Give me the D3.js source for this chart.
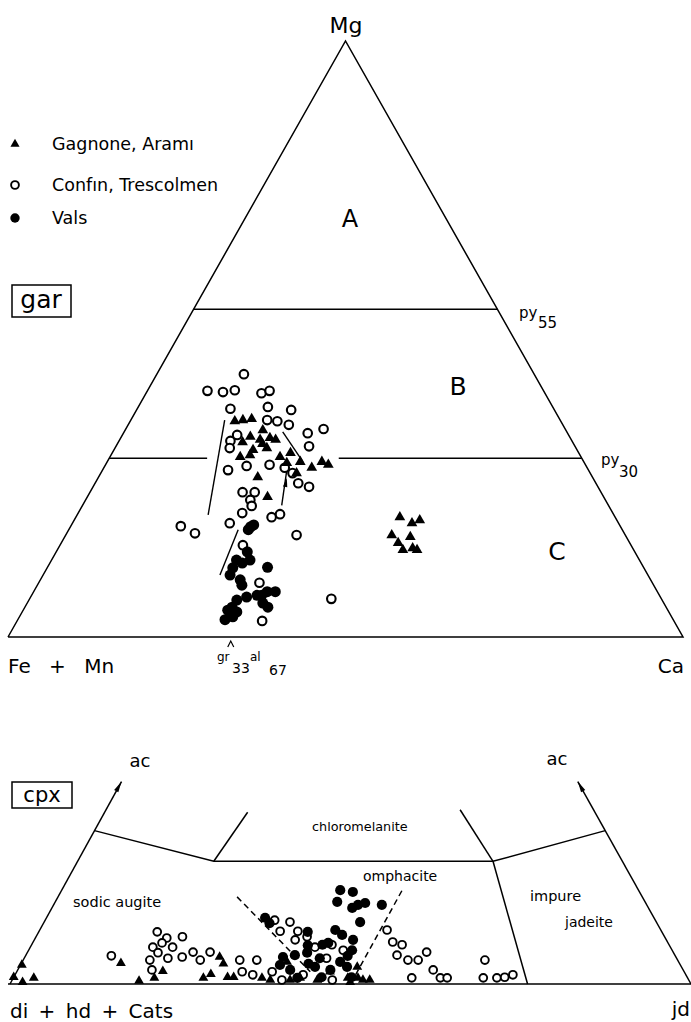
<!DOCTYPE html>
<html>
<head>
<meta charset="utf-8">
<script src="https://cdn.jsdelivr.net/npm/d3@7/dist/d3.min.js"></script>
<style>
    body { margin: 0; background: #fff; }
    svg text { font-family: "DejaVu Sans", sans-serif; fill: #000; }
</style>
</head>
<body>
<div id="chart"></div>
<script>
// ---- garnet: [Ca %, Mg %]  (Fe+Mn = rest) ----
var garGagnone = [
    [15.5, 36.2], [16.6, 36.4], [17.8, 36.6], [19.1, 33.6], [20.8, 33.1], [22.1, 33.4],
    [23.1, 33.1], [22.5, 31.7], [20.6, 31.4], [19.3, 30.2], [20.6, 30.5], [25.2, 30.2],
    [26.4, 30.9], [26.7, 29.2], [29.0, 27.5], [30.8, 28.4], [31.8, 29.4], [33.0, 28.9],
    [23.6, 26.8], [26.7, 23.5], [20.4, 34.7], [18.4, 32.7], [28.6, 29.4], [21.5, 32.4],
    [48.0, 20.1], [50.3, 19.1], [51.2, 19.6], [48.3, 17.1], [51.2, 16.8], [49.9, 15.8],
    [51.2, 14.6], [52.5, 14.9], [53.3, 14.6]
];
var garConfin = [
    [12.9, 44.1], [8.9, 41.3], [11.3, 41.1], [12.9, 41.4], [17.1, 40.9], [18.1, 41.3],
    [13.8, 38.3], [19.2, 38.6], [22.9, 38.1], [20.2, 36.4], [21.8, 36.2], [23.8, 35.6],
    [27.3, 34.2], [29.3, 34.9], [28.6, 32.0], [16.5, 32.9], [17.0, 31.7], [17.0, 33.9],
    [18.6, 28.0], [21.0, 28.7], [24.3, 28.9], [26.8, 28.4], [28.4, 27.5], [30.1, 25.8],
    [32.0, 25.2], [22.6, 24.3], [24.4, 24.3], [24.4, 23.0], [25.1, 22.0], [24.3, 20.8],
    [23.3, 19.1], [29.0, 20.1], [30.0, 20.6], [34.2, 17.1], [27.1, 15.4], [32.7, 9.1],
    [36.3, 2.7], [44.7, 6.4], [16.3, 18.6], [19.0, 17.4]
];
var garVals = [
    [26.7, 18.5], [27.0, 18.8], [26.6, 18.0], [28.3, 14.3], [29.4, 12.9], [27.4, 12.9],
    [27.5, 11.6], [28.5, 12.4], [32.6, 11.7], [27.7, 10.4], [29.6, 9.6], [30.3, 8.7],
    [32.0, 6.7], [30.8, 6.2], [30.7, 5.0], [30.3, 4.5], [31.8, 4.2], [30.7, 2.9],
    [31.6, 3.4], [33.4, 7.0], [34.9, 5.7], [35.8, 7.6], [34.6, 7.6], [36.0, 5.0], [34.1, 7.0]
];
// zoning trends drawn as thin lines
var garTrends = [
    [[19.4, 20.5], [13.9, 36.4]],
    [[26.2, 10.4], [25.1, 18.0]],
    [[23.5, 34.4], [29.0, 29.4]]
];
var garArrow = [[29.5, 22.1], [27.3, 28.0]];
// pyrope boundaries (Mg %) and the stretch of each line left blank
var pyLevels = [55, 30];
var pyGaps = { 55: null, 30: [14.5, 34] };
var grossularMark = 33;

// ---- cpx: [jd %, ac %]  (di+hd+Cats = rest) ----
var cpxGagnone = [
    [0.2, 3.1], [0, 1.1], [1.7, 0.3], [3.0, 1.0], [14.6, 3.4], [18.7, 0.5], [20.7, 1.0],
    [21.4, 2.1], [27.9, 1.0], [28.7, 1.6], [28.6, 4.4], [29.7, 3.3], [31.4, 1.1], [32.3, 1.1],
    [38.9, 3.6], [40.8, 0.65], [44.8, 0.65], [49.1, 1.0], [49.8, 0.3], [49.6, 2.8],
    [50.6, 1.0], [51.5, 0.65], [52.5, 0.65], [42.1, 1.0], [46.0, 2.0], [36.5, 1.0], [37.9, 0.65]
];
var cpxConfin = [
    [12.6, 4.6], [17.4, 8.5], [19.3, 7.5], [21.5, 7.7], [20.9, 6.0], [18.0, 6.0], [18.6, 3.9],
    [19.2, 5.1], [21.1, 4.2], [23.1, 4.4], [24.3, 5.2], [26.0, 3.9], [26.8, 5.2], [19.7, 2.3],
    [31.8, 3.9], [34.3, 3.9], [33.1, 2.0], [34.9, 1.5], [37.5, 2.0], [19.0, 6.7],
    [33.7, 10.4], [36.1, 10.1], [35.4, 8.6], [38.0, 8.6], [39.8, 7.7], [38.3, 7.2], [41.8, 6.0],
    [44.1, 6.4], [44.4, 4.2], [46.2, 5.5], [42.3, 1.5], [47.0, 0.65], [39.6, 0.65],
    [51.0, 8.8], [52.8, 6.85], [54.4, 6.4], [54.5, 4.7], [56.5, 3.9], [58.0, 3.9], [58.6, 5.2],
    [61.0, 2.3], [62.7, 1.0], [58.5, 1.0], [63.7, 1.0], [67.8, 3.9], [69.0, 1.0], [71.0, 1.0],
    [72.1, 1.1], [73.1, 1.5]
];
var cpxVals = [
    [40.9, 15.3], [42.9, 15.0], [41.4, 13.4], [44.1, 12.4], [44.7, 12.9], [45.6, 13.2],
    [48.2, 12.9], [46.4, 10.1], [43.4, 8.8], [32.1, 10.8], [33.2, 9.9], [39.5, 8.5],
    [46.8, 7.2], [47.5, 5.5], [42.7, 6.4], [43.4, 6.7], [37.9, 4.4], [41.1, 5.1], [43.4, 4.2],
    [46.7, 3.6], [48.1, 2.8], [43.4, 2.8], [45.2, 1.1], [40.0, 2.3], [41.7, 1.0], [45.9, 2.3],
    [49.6, 1.1], [39.5, 4.7], [38.1, 3.1], [40.6, 6.3], [44.8, 8.0], [47.3, 4.6], [42.2, 3.3]
];
var cpxBoundary = [[0, 25], [20, 20], [61, 20], [75, 25]];
var cpxStubs = [
    [[20, 20], [21, 28]],
    [[61, 20], [52, 28.4]],
    [[61, 20], [76, 0]]
];
var cpxDashed = [
    [[26.3, 14.2], [43.1, 2.0]],
    [[50, 15.2], [50, 0.8]]
];
var acArrowTop = 33;

var legendNames = ["Gagnone, Aram\u0131", "Conf\u0131n, Trescolmen", "Vals"];

// ---------------------------------------------------------------
var width = 691,
    height = 1022;

var svg = d3.select("#chart").append("svg")
    .attr("width", width)
    .attr("height", height);

// garnet triangle: Fe+Mn lower left, Ca lower right, Mg apex
var gx = d3.scaleLinear().domain([0, 100]).range([8, 683]);
var gy = d3.scaleLinear().domain([0, 100]).range([637, 41]);

function gpx(d) { return gx(d[0] + d[1] / 2); }
function gpy(d) { return gy(d[1]); }

// cpx triangle: di+hd+Cats lower left, jd lower right, ac apex (cut off)
var apexShift = 0.4963;
var cx = d3.scaleLinear().domain([0, 100]).range([10, 691]);
var cy = d3.scaleLinear().domain([0, 100]).range([984, 370.5]);

function cpxX(d) { return cx(d[0] + d[1] * apexShift); }
function cpxY(d) { return cy(d[1]); }

var gLine = d3.line().x(gpx).y(gpy);
var cLine = d3.line().x(cpxX).y(cpxY);

var ink = "#000";
var lineW = 1.5;

// ---- garnet frame ----
var gar = svg.append("g");

gar.append("path")
    .attr("d", gLine([[0, 0], [0, 100], [100, 0], [0, 0]]))
    .attr("fill", "none")
    .attr("stroke", ink)
    .attr("stroke-width", lineW)
    .attr("stroke-linejoin", "miter");

pyLevels.forEach(function(py) {
    var end = 100 - py;
    var segs = pyGaps[py] ? [[0, pyGaps[py][0]], [pyGaps[py][1], end]] : [[0, end]];
    segs.forEach(function(s) {
        gar.append("path")
            .attr("d", gLine([[s[0], py], [s[1], py]]))
            .attr("stroke", ink)
            .attr("stroke-width", lineW);
    });
});

garTrends.forEach(function(t) {
    gar.append("path")
        .attr("d", gLine(t))
        .attr("stroke", ink)
        .attr("stroke-width", 1.4);
});

function arrowHead(g, x1, y1, x2, y2, len, half) {
    var a = Math.atan2(y2 - y1, x2 - x1);
    var bx = x2 - len * Math.cos(a),
        by = y2 - len * Math.sin(a);
    var px = -Math.sin(a) * half,
        py = Math.cos(a) * half;
    g.append("path")
        .attr("d", "M" + x2 + "," + y2 + "L" + (bx + px) + "," + (by + py) +
            "L" + (bx - px) + "," + (by - py) + "Z")
        .attr("fill", ink);
}

gar.append("path")
    .attr("d", gLine(garArrow))
    .attr("stroke", ink)
    .attr("stroke-width", 1.4);
arrowHead(gar, gpx(garArrow[0]), gpy(garArrow[0]), gpx(garArrow[1]), gpy(garArrow[1]) + 8, 9, 2.2);

// caret under gr33
var caretX = gx(grossularMark);
gar.append("path")
    .attr("d", "M" + (caretX - 3) + "," + (gy(0) + 10) + "L" + caretX + "," + (gy(0) + 4) +
        "L" + (caretX + 3) + "," + (gy(0) + 10))
    .attr("fill", "none")
    .attr("stroke", ink)
    .attr("stroke-width", 1.2);

var triBig = d3.symbol().type(d3.symbolTriangle).size(50);
var triSmall = d3.symbol().type(d3.symbolTriangle).size(42);

gar.append("g").selectAll("circle")
    .data(garConfin)
    .enter().append("circle")
    .attr("cx", gpx)
    .attr("cy", gpy)
    .attr("r", 4.3)
    .attr("fill", "#fff")
    .attr("stroke", ink)
    .attr("stroke-width", 2.1);

gar.append("g").selectAll("circle")
    .data(garVals)
    .enter().append("circle")
    .attr("cx", gpx)
    .attr("cy", gpy)
    .attr("r", 5.5)
    .attr("fill", ink);

gar.append("g").selectAll("path")
    .data(garGagnone)
    .enter().append("path")
    .attr("d", triBig)
    .attr("transform", function(d) {
        return "translate(" + gpx(d) + "," + gpy(d) + ")";
    })
    .attr("fill", ink);

// garnet labels
gar.append("text").attr("x", 346).attr("y", 33).attr("text-anchor", "middle")
    .attr("font-size", 22).text("Mg");
gar.append("text").attr("x", 350).attr("y", 227).attr("text-anchor", "middle")
    .attr("font-size", 24).text("A");
gar.append("text").attr("x", 458).attr("y", 395).attr("text-anchor", "middle")
    .attr("font-size", 25).text("B");
gar.append("text").attr("x", 557).attr("y", 560).attr("text-anchor", "middle")
    .attr("font-size", 25).text("C");

gar.append("text").attr("x", 519).attr("y", 318).attr("font-size", 15).text("py");
gar.append("text").attr("x", 538).attr("y", 328).attr("font-size", 15).text("55");
gar.append("text").attr("x", 601).attr("y", 465).attr("font-size", 15).text("py");
gar.append("text").attr("x", 619).attr("y", 477).attr("font-size", 15).text("30");

gar.append("text").attr("x", 8).attr("y", 673).attr("font-size", 20)
    .attr("word-spacing", 12).text("Fe + Mn");
gar.append("text").attr("x", 684).attr("y", 673).attr("text-anchor", "end")
    .attr("font-size", 20).text("Ca");

gar.append("text").attr("x", 217).attr("y", 661).attr("font-size", 12).text("gr");
gar.append("text").attr("x", 232).attr("y", 673).attr("font-size", 14).text("33");
gar.append("text").attr("x", 250).attr("y", 661).attr("font-size", 12).text("al");
gar.append("text").attr("x", 269).attr("y", 675).attr("font-size", 14).text("67");

gar.append("rect")
    .attr("x", 12).attr("y", 285).attr("width", 59).attr("height", 32)
    .attr("fill", "none").attr("stroke", ink).attr("stroke-width", 1.5);
gar.append("text").attr("x", 41).attr("y", 308).attr("text-anchor", "middle")
    .attr("font-size", 25).text("gar");

// legend
var legendY = [144, 185, 218];
var legend = svg.append("g");
legend.append("path")
    .attr("d", d3.symbol().type(d3.symbolTriangle).size(36)())
    .attr("transform", "translate(15," + legendY[0] + ")")
    .attr("fill", ink);
legend.append("circle").attr("cx", 15).attr("cy", legendY[1]).attr("r", 3.9)
    .attr("fill", "#fff").attr("stroke", ink).attr("stroke-width", 1.9);
legend.append("circle").attr("cx", 15).attr("cy", legendY[2]).attr("r", 4.7)
    .attr("fill", ink);
legend.selectAll("text")
    .data(legendNames)
    .enter().append("text")
    .attr("x", 52)
    .attr("y", function(d, i) { return legendY[i] + 4; })
    .attr("dy", "0.1em")
    .attr("font-size", 17.5)
    .text(function(d) { return d; });

// ---- cpx frame ----
var cpx = svg.append("g");

cpx.append("path")
    .attr("d", "M" + 8 + "," + cy(0) + "L" + cx(100) + "," + cy(0))
    .attr("stroke", ink)
    .attr("stroke-width", lineW);

[[[0, 0], [0, acArrowTop]], [[100, 0], [100 - acArrowTop, acArrowTop]]].forEach(function(a) {
    cpx.append("path")
        .attr("d", cLine(a))
        .attr("stroke", ink)
        .attr("stroke-width", lineW);
    arrowHead(cpx, cpxX(a[0]), cpxY(a[0]), cpxX(a[1]), cpxY(a[1]), 11, 2.4);
});

cpx.append("path")
    .attr("d", cLine(cpxBoundary))
    .attr("fill", "none")
    .attr("stroke", ink)
    .attr("stroke-width", lineW);

cpxStubs.forEach(function(s) {
    cpx.append("path")
        .attr("d", cLine(s))
        .attr("stroke", ink)
        .attr("stroke-width", lineW);
});

cpxDashed.forEach(function(s) {
    cpx.append("path")
        .attr("d", cLine(s))
        .attr("stroke", ink)
        .attr("stroke-width", 1.5)
        .attr("stroke-dasharray", "6,4");
});

cpx.append("g").selectAll("circle")
    .data(cpxConfin)
    .enter().append("circle")
    .attr("cx", cpxX)
    .attr("cy", cpxY)
    .attr("r", 3.9)
    .attr("fill", "#fff")
    .attr("stroke", ink)
    .attr("stroke-width", 1.9);

cpx.append("g").selectAll("circle")
    .data(cpxVals)
    .enter().append("circle")
    .attr("cx", cpxX)
    .attr("cy", cpxY)
    .attr("r", 5.1)
    .attr("fill", ink);

cpx.append("g").selectAll("path")
    .data(cpxGagnone)
    .enter().append("path")
    .attr("d", triSmall)
    .attr("transform", function(d) {
        return "translate(" + cpxX(d) + "," + cpxY(d) + ")";
    })
    .attr("fill", ink);

// cpx labels
cpx.append("text").attr("x", 140).attr("y", 767).attr("text-anchor", "middle")
    .attr("font-size", 18).text("ac");
cpx.append("text").attr("x", 557).attr("y", 765).attr("text-anchor", "middle")
    .attr("font-size", 18).text("ac");

cpx.append("rect")
    .attr("x", 12).attr("y", 782).attr("width", 60).attr("height", 26)
    .attr("fill", "none").attr("stroke", ink).attr("stroke-width", 1.5);
cpx.append("text").attr("x", 42).attr("y", 802).attr("text-anchor", "middle")
    .attr("font-size", 21).text("cpx");

cpx.append("text").attr("x", 312).attr("y", 831).attr("font-size", 12.8).text("chloromelanite");
cpx.append("text").attr("x", 73).attr("y", 907).attr("font-size", 14.5).text("sodic augite");
cpx.append("text").attr("x", 363).attr("y", 881).attr("font-size", 14).text("omphacite");
cpx.append("text").attr("x", 530).attr("y", 901).attr("font-size", 14.5).text("impure");
cpx.append("text").attr("x", 565).attr("y", 927).attr("font-size", 14).text("jadeite");

cpx.append("text").attr("x", 10).attr("y", 1018).attr("font-size", 20)
    .attr("word-spacing", 4).text("di + hd + Cats");
cpx.append("text").attr("x", 690).attr("y", 1016).attr("text-anchor", "end")
    .attr("font-size", 20).text("jd");
</script>
</body>
</html>
